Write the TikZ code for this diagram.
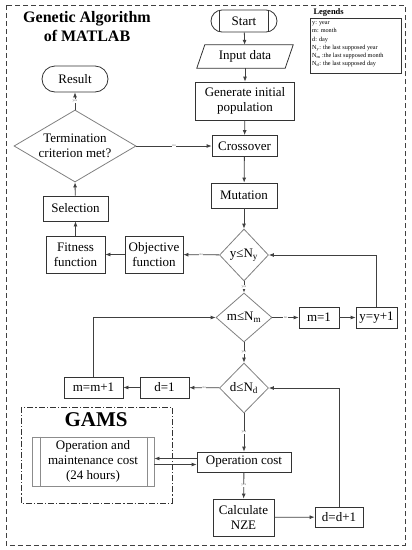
\documentclass[tikz,border=0pt]{standalone}
\usepackage{fontspec}
\setmainfont{Liberation Serif}
\usetikzlibrary{shapes.geometric,arrows.meta}
\begin{document}
\begin{tikzpicture}[x=1pt,y=-1pt,
  fs/.style={font=\fontsize{13}{15}\selectfont},
  box/.style={draw=black!80, line width=0.8pt, fill=white, align=center, inner sep=1pt, fs},
  dia/.style={shape=diamond, draw=black!50, line width=0.8pt, fill=white, align=center, inner sep=0pt, fs},
  arr/.style={draw=black!75, line width=0.8pt, -{Latex[length=5pt,width=4pt]}},
  ln/.style={draw=black!75, line width=0.8pt},
  lab/.style={font=\fontsize{3.5}{4}\selectfont, text=black!55, fill=white, inner sep=0.4pt},
]
\useasboundingbox (0,0) rectangle (412,550);
% outer frame
\draw[black!75, line width=0.8pt, dash pattern=on 5pt off 3pt] (6,5) rectangle (405,545);
\node[font=\bfseries\fontsize{16}{19}\selectfont, align=center] (title) at (87,27) {Genetic Algorithm\\of MATLAB};

% legend
\node[font=\bfseries\fontsize{8.5}{9}\selectfont, anchor=west] (legt) at (310,12) {Legends};
\node[draw=black!80, line width=0.8pt, minimum width=91, minimum height=55] (legbox) at (355.5,45.5) {};
\node[anchor=north west, align=left, inner sep=0pt, font=\fontsize{6.2}{8.2}\selectfont] (legtxt) at (312,21.5)
 {y: year\\m: month\\d: day\\N\textsubscript{y}: the last supposed year\\N\textsubscript{m} :the last supposed month\\N\textsubscript{d}: the last supposed day};

% main column
\node[box, minimum width=66, minimum height=22, rounded corners=11pt] (start) at (244,21) {Start};
\draw[black!80, line width=0.8pt] ([xshift=9]start.north west) -- ([xshift=9]start.south west);
\draw[black!80, line width=0.8pt] ([xshift=-9]start.north east) -- ([xshift=-9]start.south east);

\node[fs, minimum width=80, minimum height=23, inner sep=0pt] (inp) at (245,56.5) {Input data};
\draw[black!80, line width=0.8pt] ([xshift=-8]inp.south west) -- (inp.north west) -- ([xshift=8]inp.north east) -- (inp.south east) -- cycle;

\node[box, minimum width=99, minimum height=38] (gen) at (245,101) {Generate initial\\population};
\node[box, minimum width=65, minimum height=21] (cross) at (244.5,146) {Crossover};
\node[box, minimum width=66, minimum height=25] (mut) at (244,195.5) {Mutation};
\node[dia, minimum width=49, minimum height=52] (yN) at (244,255) {y≤N\textsubscript{y}};
\node[dia, minimum width=56, minimum height=49] (mN) at (244,317.5) {m≤N\textsubscript{m}};
\node[dia, minimum width=49, minimum height=50] (dN) at (244,388) {d≤N\textsubscript{d}};
\node[box, minimum width=94, minimum height=20] (opc) at (244,462) {Operation cost};
\node[box, minimum width=61, minimum height=37] (calc) at (243.5,517.5) {Calculate\\NZE};
\node[box, minimum width=48, minimum height=20] (dd) at (339,517) {d=d+1};

% left column
\node[box, minimum width=66, minimum height=26, rounded corners=13pt] (res) at (75,79) {Result};
\node[dia, minimum width=122, minimum height=72, aspect=1.7] (term) at (75,146) {Termination\\criterion met?};
\node[box, minimum width=65, minimum height=25] (sel) at (75.5,208.5) {Selection};
\node[box, minimum width=59, minimum height=37] (fit) at (75.5,254.5) {Fitness\\function};
\node[box, minimum width=58, minimum height=37] (obj) at (154,254.5) {Objective\\function};

% right boxes
\node[box, minimum width=40, minimum height=21] (m1) at (319,317.5) {m=1};
\node[box, minimum width=41, minimum height=21] (yy) at (376.5,317.5) {y=y+1};
\node[box, minimum width=49, minimum height=21] (d1) at (164.5,387.5) {d=1};
\node[box, minimum width=59, minimum height=21] (mm) at (93.5,387.5) {m=m+1};

% GAMS
\draw[black!80, line width=0.8pt, dash pattern=on 6pt off 2pt on 1.2pt off 2pt] (21,407) rectangle (172,503);
\node[font=\bfseries\fontsize{21}{23}\selectfont] (gams) at (96,420) {GAMS};
\node[box, draw=black!45, minimum width=122, minimum height=49] (om) at (93,461.5) {Operation and\\maintenance cost\\(24 hours)};
\draw[black!45, line width=0.8pt] ([xshift=9]om.north west) -- ([xshift=9]om.south west);
\draw[black!45, line width=0.8pt] ([xshift=-7]om.north east) -- ([xshift=-7]om.south east);

% connectors
\draw[arr] (start) -- (inp);
\draw[arr] (inp.south) -- (gen);
\draw[arr] (gen) -- (cross);
\draw[arr] (cross) -- (mut);
\draw[arr] (mut) -- (yN);
\draw[arr] (yN) -- node[lab]{yes} (mN);
\draw[arr] (mN) -- node[lab]{yes} (dN);
\draw[arr] (dN) -- node[lab]{yes} (opc);
\draw[arr] (opc) -- node[lab]{yes} (calc);
\draw[arr] (calc) -- (dd);
\draw[arr] (term) -- node[lab]{yes} (res);
\draw[arr] (term) -- node[lab]{no} (cross);
\draw[arr] (yN) -- node[lab]{no} (obj);
\draw[arr] (obj) -- (fit);
\draw[arr] (fit) -- (sel);
\draw[arr] (sel) -- (term.south);
\draw[arr] (mN) -- node[lab]{no} (m1);
\draw[arr] (m1) -- (yy);
\draw[arr] (yy.north) |- (yN.east);
\draw[arr] (dN) -- node[lab]{no} (d1);
\draw[arr] (d1) -- (mm);
\draw[arr] (mm.north) |- (mN.west);
\draw[arr] (dd.north) |- (dN.east);
\draw[arr] ([yshift=3.5]opc.west) -- ([yshift=3.5]opc.west -| om.east);
\draw[arr] ([yshift=-2.5]opc.west -| om.east) -- ([yshift=-2.5]opc.west);
\end{tikzpicture}
\end{document}
